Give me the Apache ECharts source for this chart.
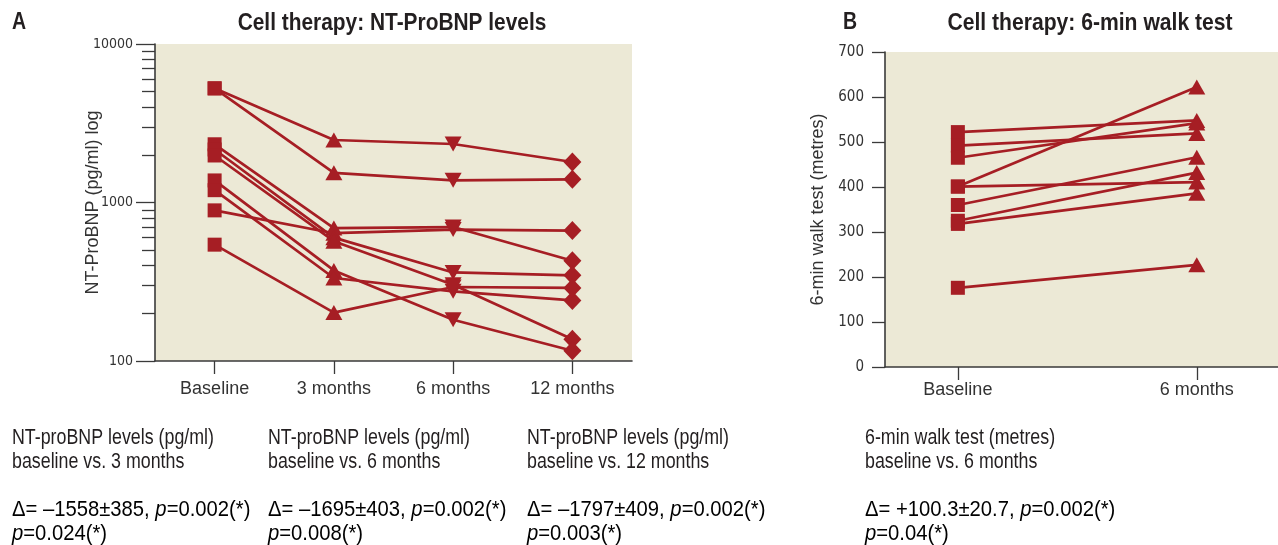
<!DOCTYPE html>
<html>
<head>
<meta charset="utf-8">
<script src="https://cdn.jsdelivr.net/npm/echarts@6/dist/echarts.min.js"></script>
<style>
  html, body { margin: 0; padding: 0; background: #fff; }
  #main { width: 1278px; height: 545px; }
</style>
</head>
<body>
<div id="main"></div>
<script>
// panel A: NT-ProBNP, one value per patient at each visit
var ntCats = ['Baseline', '3 months', '6 months', '12 months'];
var ntBase = [5250, 5250, 892, 2330, 2160, 1980, 1378, 1196, 542];
var nt3m   = [2480, 1540, 640, 690, 600, 570, 373, 334, 202];
var nt6m   = [2340, 1380, 675, 700, 362, 303, 182, 275, 293];
var nt12m  = [1800, 1400, 665, 429, 347, 137, 116, 241, 289];
var ntMinorTicks = [200, 300, 400, 500, 600, 700, 800, 900, 2000, 3000, 4000, 5000, 6000, 7000, 8000, 9000];

// panel B: 6-min walk test
var walkCats = ['Baseline', '6 months'];
var walkBase = [522, 492, 465, 401, 401, 360, 325, 318, 176];
var walk6m   = [548, 519, 542, 622, 411, 466, 432, 386, 227];

var RED = '#a61e24';
var BG = '#ece9d6';
var AXIS = '#3a3a3a';
var COND = '"DejaVu Sans Condensed", "Liberation Sans", sans-serif';
var SANS = '"Liberation Sans", Arial, sans-serif';

var chart = echarts.init(document.getElementById('main'));

// marker per visit: square, triangle, inverted triangle, diamond
var marks = [
  {symbol: 'rect', symbolSize: 14, symbolRotate: 0},
  {symbol: 'triangle', symbolSize: [17, 15], symbolRotate: 0},
  {symbol: 'triangle', symbolSize: [17, 15], symbolRotate: 180},
  {symbol: 'diamond', symbolSize: [18, 19], symbolRotate: 0}
];

var series = [];
for (var i = 0; i < ntBase.length; i++) {
  var vals = [ntBase[i], nt3m[i], nt6m[i], nt12m[i]];
  series.push({
    type: 'line',
    xAxisIndex: 0,
    yAxisIndex: 0,
    data: vals.map(function (v, k) {
      return {value: v, symbol: marks[k].symbol, symbolSize: marks[k].symbolSize, symbolRotate: marks[k].symbolRotate};
    }),
    lineStyle: {color: RED, width: 2.7},
    itemStyle: {color: RED, opacity: 1},
    showAllSymbol: true,
    silent: true
  });
}
for (var j = 0; j < walkBase.length; j++) {
  series.push({
    type: 'line',
    xAxisIndex: 1,
    yAxisIndex: 2,
    data: [
      {value: [0, walkBase[j]], symbol: 'rect', symbolSize: 14},
      {value: [1, walk6m[j]], symbol: 'triangle', symbolSize: [17, 15]}
    ],
    lineStyle: {color: RED, width: 2.7},
    itemStyle: {color: RED, opacity: 1},
    silent: true
  });
}

// texts are squeezed horizontally to imitate the condensed face of the figure
function txt(x, y, text, font, squeeze, align) {
  return {
    type: 'text', x: x, y: y, scaleX: squeeze, silent: true,
    style: {
      text: text,
      fill: '#231f20',
      font: font,
      textAlign: align || 'left',
      textVerticalAlign: 'middle'
    }
  };
}
function cap(x, y, text) {
  return txt(x, y, text, '22px ' + SANS, 0.81);
}
function pLine(x, y, head, pval) {
  return {
    type: 'text', x: x, y: y, scaleX: 0.92, silent: true,
    style: {
      text: '{n|' + head + '}{i|p}{n|' + pval + '}',
      textVerticalAlign: 'middle',
      rich: {
        n: {fontFamily: SANS, fontSize: 22, color: '#231f20'},
        i: {fontFamily: SANS, fontSize: 22, color: '#231f20', fontStyle: 'italic'}
      }
    }
  };
}

var option = {
  animation: false,
  backgroundColor: '#fff',
  grid: [
    {left: 155, top: 44, right: 646, bottom: 184, show: true, backgroundColor: BG, borderWidth: 0},
    {left: 885, top: 52, right: 0, bottom: 178, show: true, backgroundColor: BG, borderWidth: 0}
  ],
  xAxis: [
    {
      gridIndex: 0, type: 'category', data: ntCats, boundaryGap: true,
      axisLine: {show: true, lineStyle: {color: AXIS, width: 1.6}},
      axisTick: {show: true, alignWithLabel: true, length: 13, lineStyle: {color: AXIS, width: 1.3}},
      axisLabel: {color: '#333', fontFamily: SANS, fontSize: 18, margin: 19}
    },
    {
      gridIndex: 1, type: 'value', min: -0.305, max: 1.34,
      splitLine: {show: false},
      axisLine: {show: true, onZero: false, lineStyle: {color: AXIS, width: 1.6}},
      axisTick: {show: true, customValues: [0, 1], length: 13, lineStyle: {color: AXIS, width: 1.3}},
      axisLabel: {customValues: [0, 1], color: '#333', fontFamily: SANS, fontSize: 18, margin: 14,
        formatter: function (v) { return walkCats[Math.round(v)]; }}
    }
  ],
  yAxis: [
    {
      gridIndex: 0, type: 'log', logBase: 10, min: 100, max: 10000, position: 'left',
      name: 'NT-ProBNP (pg/ml) log', nameLocation: 'middle', nameRotate: 90, nameGap: 53,
      nameMoveOverlap: false,
      nameTextStyle: {color: '#333', fontFamily: SANS, fontSize: 18},
      splitLine: {show: false},
      axisLine: {show: true, lineStyle: {color: AXIS, width: 1.6}},
      axisTick: {show: true, length: 19, lineStyle: {color: AXIS, width: 1.3}},
      axisLabel: {color: '#333', fontFamily: COND, fontSize: 14, margin: 22,
        formatter: function (v) { return String(Math.round(v)); }}
    },
    {
      gridIndex: 0, type: 'log', logBase: 10, min: 100, max: 10000, position: 'left',
      splitLine: {show: false},
      axisLine: {show: false},
      axisTick: {show: true, customValues: ntMinorTicks, length: 13, lineStyle: {color: AXIS, width: 1.3}},
      axisLabel: {show: false}
    },
    {
      gridIndex: 1, type: 'value', min: 0, max: 700, interval: 100,
      name: '6-min walk test (metres)', nameLocation: 'middle', nameRotate: 90, nameGap: 58,
      nameTextStyle: {color: '#333', fontFamily: SANS, fontSize: 18},
      splitLine: {show: false},
      axisLine: {show: true, onZero: false, lineStyle: {color: AXIS, width: 1.6}},
      axisTick: {show: true, length: 13, lineStyle: {color: AXIS, width: 1.3}},
      axisLabel: {color: '#333', fontFamily: COND, fontSize: 15, margin: 21}
    }
  ],
  series: series,
  graphic: [
    txt(12, 23, 'A', 'bold 23px ' + SANS, 0.85),
    txt(392, 23, 'Cell therapy: NT-ProBNP levels', 'bold 24px ' + SANS, 0.87, 'center'),
    txt(843, 23, 'B', 'bold 23px ' + SANS, 0.85),
    txt(1090, 23, 'Cell therapy: 6-min walk test', 'bold 24px ' + SANS, 0.88, 'center'),

    cap(12, 438, 'NT-proBNP levels (pg/ml)'),
    cap(12, 462, 'baseline vs. 3 months'),
    pLine(12, 510, 'Δ= –1558±385, ', '=0.002(*)'),
    pLine(12, 534, '', '=0.024(*)'),

    cap(268, 438, 'NT-proBNP levels (pg/ml)'),
    cap(268, 462, 'baseline vs. 6 months'),
    pLine(268, 510, 'Δ= –1695±403, ', '=0.002(*)'),
    pLine(268, 534, '', '=0.008(*)'),

    cap(527, 438, 'NT-proBNP levels (pg/ml)'),
    cap(527, 462, 'baseline vs. 12 months'),
    pLine(527, 510, 'Δ= –1797±409, ', '=0.002(*)'),
    pLine(527, 534, '', '=0.003(*)'),

    cap(865, 438, '6-min walk test (metres)'),
    cap(865, 462, 'baseline vs. 6 months'),
    pLine(865, 510, 'Δ= +100.3±20.7, ', '=0.002(*)'),
    pLine(865, 534, '', '=0.04(*)')
  ]
};
chart.setOption(option);
</script>
</body>
</html>
